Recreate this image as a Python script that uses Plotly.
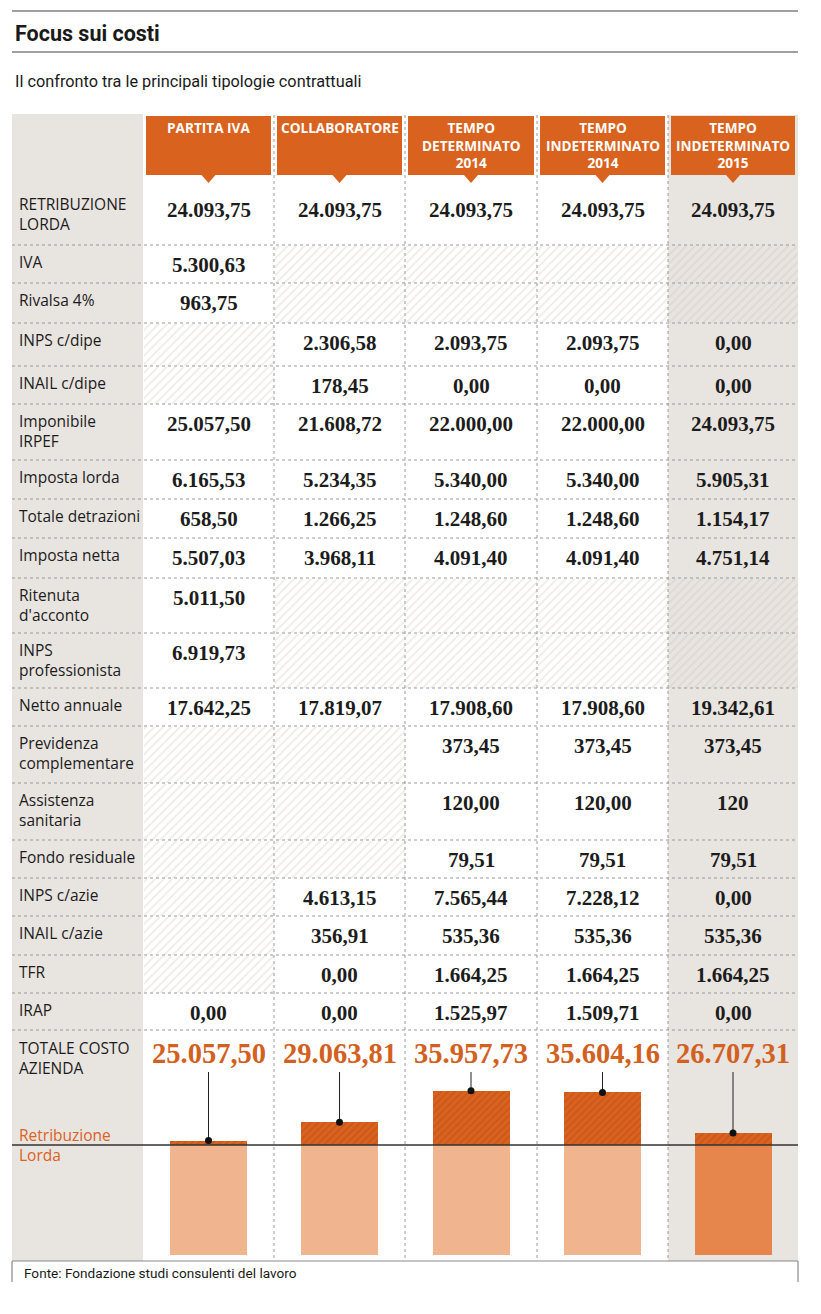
import plotly.graph_objects as go

# ------------------------- DATA -------------------------
columns = ["PARTITA IVA", "COLLABORATORE", "TEMPO<br>DETERMINATO<br>2014",
           "TEMPO<br>INDETERMINATO<br>2014", "TEMPO<br>INDETERMINATO<br>2015"]

row_labels = ["RETRIBUZIONE<br>LORDA", "IVA", "Rivalsa 4%", "INPS c/dipe", "INAIL c/dipe",
              "Imponibile<br>IRPEF", "Imposta lorda", "Totale detrazioni", "Imposta netta",
              "Ritenuta<br>d'acconto", "INPS<br>professionista", "Netto annuale",
              "Previdenza<br>complementare", "Assistenza<br>sanitaria", "Fondo residuale",
              "INPS c/azie", "INAIL c/azie", "TFR", "IRAP"]

partita_iva = ["24.093,75", "5.300,63", "963,75", None, None, "25.057,50", "6.165,53", "658,50",
               "5.507,03", "5.011,50", "6.919,73", "17.642,25", None, None, None, None, None,
               None, "0,00"]
collaboratore = ["24.093,75", None, None, "2.306,58", "178,45", "21.608,72", "5.234,35",
                 "1.266,25", "3.968,11", None, None, "17.819,07", None, None, None, "4.613,15",
                 "356,91", "0,00", "0,00"]
tempo_det_2014 = ["24.093,75", None, None, "2.093,75", "0,00", "22.000,00", "5.340,00",
                  "1.248,60", "4.091,40", None, None, "17.908,60", "373,45", "120,00", "79,51",
                  "7.565,44", "535,36", "1.664,25", "1.525,97"]
tempo_indet_2014 = ["24.093,75", None, None, "2.093,75", "0,00", "22.000,00", "5.340,00",
                    "1.248,60", "4.091,40", None, None, "17.908,60", "373,45", "120,00", "79,51",
                    "7.228,12", "535,36", "1.664,25", "1.509,71"]
tempo_indet_2015 = ["24.093,75", None, None, "0,00", "0,00", "24.093,75", "5.905,31",
                    "1.154,17", "4.751,14", None, None, "19.342,61", "373,45", "120", "79,51",
                    "0,00", "535,36", "1.664,25", "0,00"]

totale_label = "TOTALE COSTO<br>AZIENDA"
totale_costo_text = ["25.057,50", "29.063,81", "35.957,73", "35.604,16", "26.707,31"]
totale_costo = [25057.50, 29063.81, 35957.73, 35604.16, 26707.31]
retribuzione_lorda = [24093.75, 24093.75, 24093.75, 24093.75, 24093.75]

title = "Focus sui costi"
subtitle = "Il confronto tra le principali tipologie contrattuali"
source = "Fonte: Fondazione studi consulenti del lavoro"
retrib_legend = "Retribuzione<br>Lorda"

table_values = [partita_iva, collaboratore, tempo_det_2014, tempo_indet_2014, tempo_indet_2015]

# ------------------------- LAYOUT / STYLE -------------------------
PAGE_W, PAGE_H = 821, 1314
OFF = 8                      # default body margin of the html page
FIG_W, FIG_H = PAGE_W - OFF, PAGE_H - OFF
LEFT, RIGHT = 12, 798
col_edges = [143, 274, 405, 537, 668, 798]
row_heights = [62, 38, 40, 43, 38, 56, 39, 39, 40, 55, 55, 38, 57, 57, 38, 38, 39, 38, 37]
rows_top = 183
table_top = 114
table_bottom = 1261
bar_zero_px = 1255
retrib_px = 1145
leader_top_px = 1072
bar_width = 77

GREY = "#e8e4e0"
ORANGE = "#d9621f"
ORANGE_DARK = "#b8490f"
PEACH = "#f0b48e"
ORANGE_LAST = "#e6854c"
TXT = "#1c1c1c"
DOT = "#9a9a9a"

SANS = "Open Sans, Noto Sans, sans-serif"
NARROW = "Roboto, sans-serif"
SERIF = "Liberation Serif, DejaVu Serif, serif"

centers = [(col_edges[i] + col_edges[i + 1]) / 2 for i in range(5)]
widths = [col_edges[i + 1] - col_edges[i] for i in range(5)]

row_tops = []
y = rows_top
for h in row_heights:
    row_tops.append(y)
    y += h
rows_bottom = y  # start of totale row

shapes = []
annotations = []

# rules and title block
for yy in (11, 52):
    shapes.append(dict(type="line", xref="x", yref="y", x0=LEFT, x1=RIGHT, y0=yy, y1=yy,
                       line=dict(color="#808080", width=1.5), layer="above"))
annotations.append(dict(text="<b>" + title + "</b>", x=LEFT + 1, y=33, xref="x", yref="y",
                        xanchor="left", yanchor="middle", showarrow=False,
                        font=dict(family=NARROW, size=21.5, color="#1a1a1a")))
annotations.append(dict(text=subtitle, x=LEFT + 1, y=81, xref="x", yref="y",
                        xanchor="left", yanchor="middle", showarrow=False,
                        font=dict(family=NARROW, size=16.3, color="#1a1a1a")))

# backgrounds
shapes.append(dict(type="rect", xref="x", yref="y", x0=LEFT, x1=col_edges[0], y0=table_top,
                   y1=table_bottom, fillcolor=GREY, line=dict(width=0), layer="below"))
shapes.append(dict(type="rect", xref="x", yref="y", x0=col_edges[4], x1=col_edges[5], y0=table_top + 1,
                   y1=table_bottom, fillcolor=GREY, line=dict(width=0), layer="below"))

# header boxes
for i, name in enumerate(columns):
    x0, x1 = col_edges[i] + 3, col_edges[i + 1] - 3
    c = centers[i]
    shapes.append(dict(type="rect", xref="x", yref="y", x0=x0, x1=x1, y0=116, y1=175,
                       fillcolor=ORANGE, line=dict(width=0), layer="below"))
    shapes.append(dict(type="path", xref="x", yref="y",
                       path=f"M {c-7},175 L {c+7},175 L {c},183 Z",
                       fillcolor=ORANGE, line=dict(width=0), layer="below"))
    annotations.append(dict(text="<b>" + name + "</b>", x=c, y=116, xref="x", yref="y",
                            xanchor="center", yanchor="top", showarrow=False,
                            font=dict(family=SANS, size=13.6, color="white")))

# row labels and values, hatched empty cells
hatch_w = dict(x=[], base=[], y=[], width=[])
hatch_g = dict(x=[], base=[], y=[], width=[])
for r, lab in enumerate(row_labels):
    top = row_tops[r]
    loff = 4 if r == 0 else 0
    voff = 7 if r == 0 else 0
    annotations.append(dict(text=lab, x=17, y=top + 4 + loff, xref="x", yref="y",
                            xanchor="left", yanchor="top", showarrow=False, align="left",
                            font=dict(family=SANS, size=15.5, color=TXT)))
    for i in range(5):
        v = table_values[i][r]
        if v is None:
            tgt = hatch_g if i == 4 else hatch_w
            tgt["x"].append(centers[i])
            tgt["base"].append(top + 1)
            tgt["y"].append(row_heights[r] - 1)
            tgt["width"].append(widths[i] - 1)
        else:
            annotations.append(dict(text="<b>" + v + "</b>", x=centers[i], y=top + 20 + voff,
                                    xref="x", yref="y", xanchor="center", yanchor="middle",
                                    showarrow=False,
                                    font=dict(family=SERIF, size=21, color=TXT)))

# dotted grid
for yy in row_tops[1:] + [rows_bottom]:
    shapes.append(dict(type="line", xref="x", yref="y", x0=LEFT, x1=RIGHT, y0=yy, y1=yy,
                       line=dict(color=DOT, width=1, dash="dot"), layer="above"))
for xx in col_edges[1:5]:
    shapes.append(dict(type="line", xref="x", yref="y", x0=xx, x1=xx, y0=table_top + 1,
                       y1=table_bottom, line=dict(color=DOT, width=1, dash="dot"), layer="above"))

# bottom border + source box
shapes.append(dict(type="line", xref="x", yref="y", x0=LEFT, x1=RIGHT, y0=table_bottom,
                   y1=table_bottom, line=dict(color="#8a8a8a", width=1.2), layer="above"))
for xx in (LEFT, RIGHT):
    shapes.append(dict(type="line", xref="x", yref="y", x0=xx, x1=xx, y0=table_bottom,
                       y1=1282, line=dict(color="#8a8a8a", width=1.2), layer="above"))
annotations.append(dict(text=source, x=22, y=1273, xref="x", yref="y", xanchor="left",
                        yanchor="middle", showarrow=False,
                        font=dict(family=NARROW, size=13.6, color="#1a1a1a")))

# totale row
annotations.append(dict(text=totale_label, x=17, y=rows_bottom + 5, xref="x", yref="y",
                        xanchor="left", yanchor="top", showarrow=False, align="left",
                        font=dict(family=SANS, size=15.5, color=TXT)))
for i in range(5):
    annotations.append(dict(text="<b>" + totale_costo_text[i] + "</b>", x=centers[i],
                            y=rows_bottom + 23, xref="x", yref="y", xanchor="center",
                            yanchor="middle", showarrow=False,
                            font=dict(family=SERIF, size=28.5, color="#d2601e")))
annotations.append(dict(text=retrib_legend, x=17, y=retrib_px, xref="x", yref="y",
                        xanchor="left", yanchor="middle", showarrow=False, align="left",
                        font=dict(family=SANS, size=15.5, color=ORANGE)))

# value axis for bars (y2): zero at bar_zero_px, retribuzione at retrib_px
k = (bar_zero_px - retrib_px) / retribuzione_lorda[0]       # px per unit
y2_top_val = (bar_zero_px - leader_top_px) / k
dom0 = (PAGE_H - bar_zero_px) / FIG_H
dom1 = (PAGE_H - leader_top_px) / FIG_H

shapes.append(dict(type="line", xref="x", yref="y2", x0=LEFT, x1=RIGHT,
                   y0=retribuzione_lorda[0], y1=retribuzione_lorda[0],
                   line=dict(color="#333333", width=1.5), layer="above"))

fig = go.Figure()

# hatched (empty) cells
fig.add_trace(go.Bar(x=hatch_w["x"], y=hatch_w["y"], base=hatch_w["base"], width=hatch_w["width"],
                     marker=dict(color="white", line=dict(width=0),
                                 pattern=dict(shape="/", fgcolor="#dcd8d2", bgcolor="white",
                                              size=6, solidity=0.3)),
                     hoverinfo="skip", showlegend=False, xaxis="x", yaxis="y"))
fig.add_trace(go.Bar(x=hatch_g["x"], y=hatch_g["y"], base=hatch_g["base"], width=hatch_g["width"],
                     marker=dict(color=GREY, line=dict(width=0),
                                 pattern=dict(shape="/", fgcolor="#d2ccc6", bgcolor=GREY,
                                              size=6, solidity=0.3)),
                     hoverinfo="skip", showlegend=False, xaxis="x", yaxis="y"))

# cost bars
base_colors = [PEACH, PEACH, PEACH, PEACH, ORANGE_LAST]
fig.add_trace(go.Bar(x=centers, y=retribuzione_lorda, base=[0] * 5, width=[bar_width] * 5,
                     marker=dict(color=base_colors, line=dict(width=0)),
                     hoverinfo="skip", showlegend=False, xaxis="x", yaxis="y2"))
extra = [t - r for t, r in zip(totale_costo, retribuzione_lorda)]
fig.add_trace(go.Bar(x=centers, y=extra, base=retribuzione_lorda, width=[bar_width] * 5,
                     marker=dict(color=ORANGE, line=dict(width=0),
                                 pattern=dict(shape="/", fgcolor=ORANGE_DARK, bgcolor=ORANGE,
                                              size=5, solidity=0.3)),
                     hoverinfo="skip", showlegend=False, xaxis="x", yaxis="y2"))

# leader lines and dots
lx, ly = [], []
for c, t in zip(centers, totale_costo):
    lx += [c, c, None]
    ly += [t, y2_top_val, None]
fig.add_trace(go.Scatter(x=lx, y=ly, mode="lines", line=dict(color="#222222", width=1),
                         hoverinfo="skip", showlegend=False, xaxis="x", yaxis="y2"))
fig.add_trace(go.Scatter(x=centers, y=totale_costo, mode="markers",
                         marker=dict(color="#111111", size=7),
                         hoverinfo="skip", showlegend=False, xaxis="x", yaxis="y2"))

fig.update_layout(
    width=FIG_W, height=FIG_H, margin=dict(l=0, r=0, t=0, b=0),
    paper_bgcolor="white", plot_bgcolor="rgba(0,0,0,0)",
    barmode="overlay", bargap=0,
    xaxis=dict(range=[OFF, PAGE_W], visible=False, fixedrange=True, domain=[0, 1]),
    yaxis=dict(range=[PAGE_H, OFF], visible=False, fixedrange=True, domain=[0, 1]),
    yaxis2=dict(range=[0, y2_top_val], visible=False, fixedrange=True,
                domain=[dom0, dom1], anchor="x"),
    shapes=shapes, annotations=annotations, showlegend=False,
)

fig.write_html("out.html")
